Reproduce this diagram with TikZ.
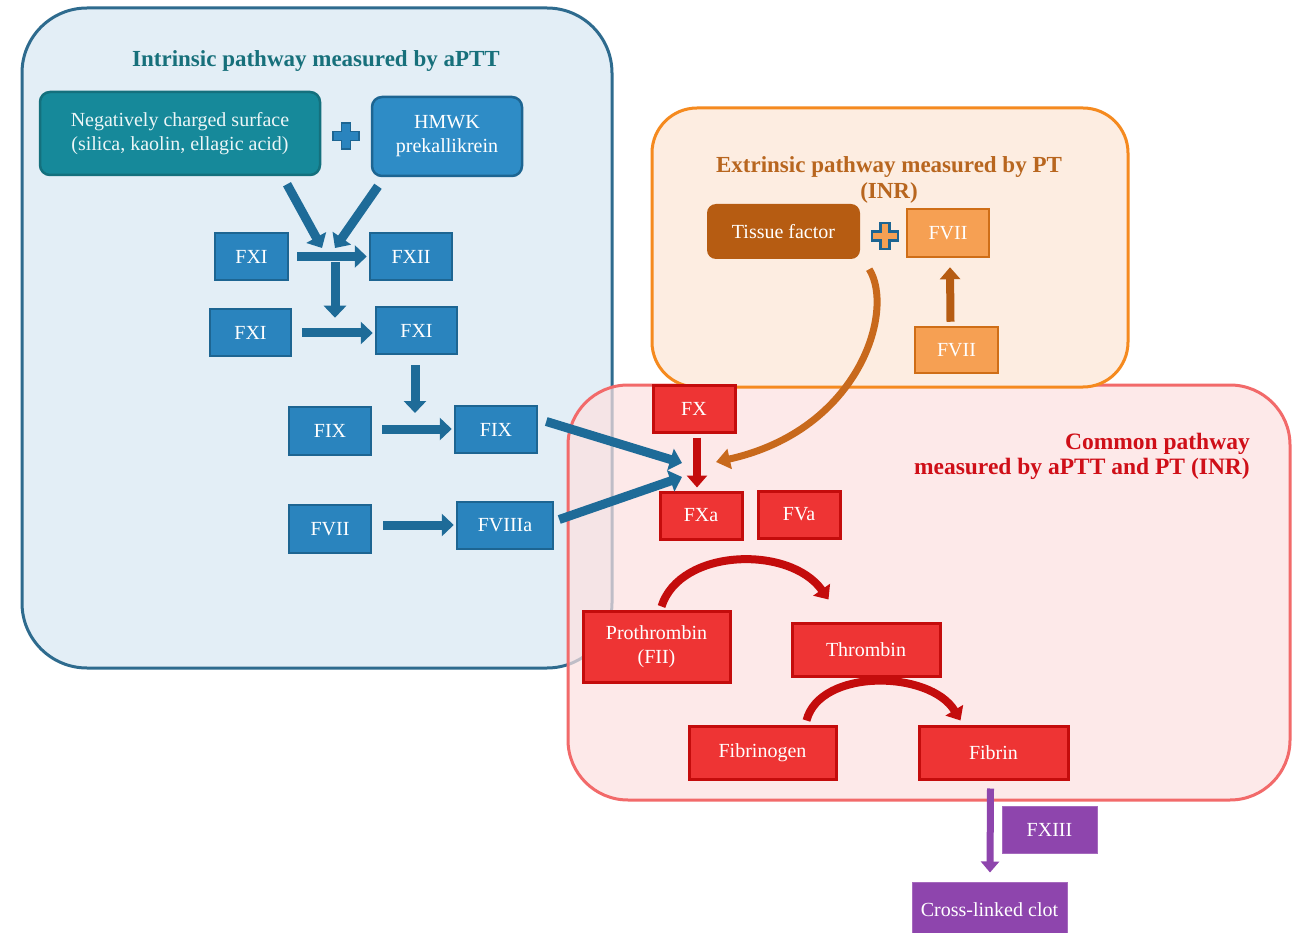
\documentclass[tikz,border=0pt]{standalone}
\usepackage{fontspec}
\setmainfont{Liberation Serif}
\usetikzlibrary{arrows.meta,calc}
\definecolor{bgblue}{HTML}{E3EEF6}
\definecolor{bluebord}{HTML}{2E6B8E}
\definecolor{orangebg}{HTML}{FDEDE1}
\definecolor{orangebord}{HTML}{F58A1F}
\definecolor{pinkbg}{HTML}{FDE1E0}
\definecolor{pinkbord}{HTML}{F26A6A}
\definecolor{boxblue}{HTML}{2A84BE}
\definecolor{boxblueD}{HTML}{1D6592}
\definecolor{arrowblue}{HTML}{1E6B98}
\definecolor{tealbox}{HTML}{16899A}
\definecolor{tealD}{HTML}{14707D}
\definecolor{hmwkc}{HTML}{2E8CC6}
\definecolor{brownc}{HTML}{B65C12}
\definecolor{lorange}{HTML}{F6A053}
\definecolor{orangeD}{HTML}{CF6E17}
\definecolor{redbox}{HTML}{EE3434}
\definecolor{redD}{HTML}{C40C0C}
\definecolor{purplec}{HTML}{8E45AD}
\definecolor{titleteal}{HTML}{17707B}
\definecolor{titlebrown}{HTML}{B8661F}
\definecolor{titlered}{HTML}{CF0F18}
\definecolor{curvearrow}{HTML}{C8691C}
\tikzset{
  boxtext/.style={font=\fontsize{20}{24}\selectfont, text=white, align=center, inner sep=0pt},
  bluebox/.style={boxtext, draw=boxblueD, fill=boxblue, line width=2.5pt},
  orbox/.style={boxtext, draw=orangeD, fill=lorange, line width=2.5pt},
  redbx/.style={boxtext, draw=redD, fill=redbox, line width=3pt},
  purbox/.style={boxtext, fill=purplec, draw=purplec!80!white, line width=1pt},
  titletext/.style={font=\fontsize{23}{26}\selectfont\bfseries, align=center, inner sep=0pt},
  bluearrow/.style={draw=arrowblue, line width=9pt, -{Triangle[length=12pt,width=22pt]}},
  redarrow/.style={draw=redD, line width=8pt, -{Triangle[length=12pt,width=20pt]}},
  brownarrow/.style={draw=brownc, line width=8pt, -{Triangle[length=12pt,width=20pt]}},
  purarrow/.style={draw=purplec, line width=7pt, -{Triangle[length=11pt,width=18pt]}},
  plussign/.pic={
    \path[pic actions] (-4.5,-13) -- (4.5,-13) -- (4.5,-4.5) -- (13,-4.5) -- (13,4.5) -- (4.5,4.5) -- (4.5,13) -- (-4.5,13) -- (-4.5,4.5) -- (-13,4.5) -- (-13,-4.5) -- (-4.5,-4.5) -- cycle;
  }
}
\begin{document}
\begin{tikzpicture}[x=1pt,y=-1pt]
\useasboundingbox (0,0) rectangle (1299,933);
\clip (0,0) rectangle (1299,933);
\fill[white] (0,0) rectangle (1299,933);

% big regions
\draw[fill=bgblue, draw=bluebord, line width=3pt, rounded corners=65pt] (22,8) rectangle (612,668);
\draw[fill=pinkbg, fill opacity=0.7, draw=pinkbord, line width=3pt, rounded corners=60pt] (568,385) rectangle (1290,800);
\draw[fill=orangebg, draw=orangebord, line width=3pt, rounded corners=45pt] (652,108) rectangle (1128,387);

% titles
\node[titletext, text=titleteal] (tin) at (316,61) {Intrinsic pathway measured by aPTT};
\node[titletext, text=titlebrown] (tex) at (889,180) {Extrinsic pathway measured by PT\\(INR)};
\node[titletext, text=titlered, align=right, anchor=east, font=\fontsize{23.5}{25}\selectfont\bfseries] (tco) at (1250,456) {Common pathway\\measured by aPTT and PT (INR)};

% intrinsic nodes
\node[boxtext, draw=tealD, fill=tealbox, line width=2.5pt, rounded corners=10pt, minimum width=280pt, minimum height=83pt, text=white!92!tealbox] (nsurf) at (180,133.5) {Negatively charged surface\\(silica, kaolin, ellagic acid)};
\node[boxtext, draw=boxblueD, fill=hmwkc, line width=2.5pt, rounded corners=10pt, minimum width=150pt, minimum height=79pt] (hmwk) at (447,136.5) {HMWK\\prekallikrein};
\pic[fill=boxblue, draw=boxblueD, line width=1.5pt] (plus1) at (346,136) {plussign};

\node[bluebox, minimum width=73pt, minimum height=47pt] (fxi1) at (251.5,256.5) {FXI};
\node[bluebox, minimum width=82pt, minimum height=47pt] (fxii) at (411,256.5) {FXII};
\node[bluebox, minimum width=81pt, minimum height=47pt] (fxi2) at (250.5,332.5) {FXI};
\node[bluebox, minimum width=81pt, minimum height=47pt] (fxi3) at (416.5,330.5) {FXI};
\node[bluebox, minimum width=82pt, minimum height=48pt] (fix1) at (330,431) {FIX};
\node[bluebox, minimum width=82pt, minimum height=47pt] (fix2) at (496,429.5) {FIX};
\node[bluebox, minimum width=82pt, minimum height=48pt] (fvii) at (330,529) {FVII};
\node[bluebox, minimum width=96pt, minimum height=47pt] (fviiia) at (505,525.5) {FVIIIa};

% extrinsic nodes
\node[boxtext, fill=brownc, rounded corners=9pt, minimum width=153pt, minimum height=55pt] (tf) at (783.5,231.5) {Tissue factor};
\pic[fill=lorange, draw=boxblueD, line width=2.5pt] (plus2) at (885,236) {plussign};
\node[orbox, minimum width=82pt, minimum height=48pt] (fvo1) at (948,233) {FVII};
\node[orbox, minimum width=83pt, minimum height=46pt] (fvo2) at (956.5,350) {FVII};

% common nodes
\node[redbx, minimum width=82pt, minimum height=47pt] (fx) at (694,408.5) {FX};
\node[redbx, minimum width=82pt, minimum height=47pt] (fxa) at (701,515.5) {FXa};
\node[redbx, minimum width=82pt, minimum height=47pt] (fva) at (799,514.5) {FVa};
\node[redbx, minimum width=147pt, minimum height=71pt] (pro) at (656.5,646.5) {Prothrombin\\(FII)};
\node[redbx, minimum width=148pt, minimum height=53pt] (thr) at (866,649.5) {Thrombin};
\node[redbx, minimum width=147pt, minimum height=53pt] (fbg) at (762.5,752.5) {Fibrinogen};
\node[redbx, minimum width=149pt, minimum height=53pt] (fbn) at (993.5,752.5) {Fibrin};

% purple
\node[purbox, minimum width=95pt, minimum height=47pt] (fxiii) at (1049.5,829.5) {FXIII};
\node[purbox, minimum width=155pt, minimum height=56pt] (clot) at (989.5,910) {Cross-linked clot};

% junction coordinates
\coordinate (jA) at (322,248);
\coordinate (jB) at (335,248);
\coordinate (jC) at (335,262);
\coordinate (jD) at (415,413);
\coordinate (jE) at (682,463);
\coordinate (jF) at (682,477);
\coordinate (jG) at (716,462);

% intrinsic arrows
\draw[bluearrow] ($(nsurf.south)+(107,8)$) -- (jA);
\draw[bluearrow] ($(hmwk.south)+(-69,9)$) -- (jB);
\draw[bluearrow] ($(fxi1.east)+(8,0)$) -- ($(fxii.west)+(-2,0)$);
\draw[bluearrow] (jC) -- ($(fxi2.north -| jC)+(0,10)$);
\draw[bluearrow] ($(fxi2.east)+(10,0.5)$) -- ($(fxi3.west)+(-2,2.5)$);
\draw[bluearrow] ($(fxi3.south)+(-1.5,10)$) -- (jD);
\draw[bluearrow] ($(fix1.east)+(10,-2)$) -- ($(fix2.west)+(-2,-0.5)$);
\draw[bluearrow] ($(fvii.east)+(11,-4)$) -- ($(fviiia.west)+(-2,-0.5)$);
\draw[bluearrow] ($(fix2.east)+(8,-8)$) -- (jE);
\draw[bluearrow] ($(fviiia.east)+(5,-6)$) -- (jF);

% common arrows
\draw[redarrow] ($(fx.south)+(3,4)$) -- ($(fxa.north)+(-4,-3)$);
\draw[redarrow] ($(pro.north)+(5,-3)$) .. controls (680,548) and (790,545) .. ($(thr.north west)+(38,-22)$);
\draw[redarrow] ($(fbg.north)+(44,-4)$) .. controls (820,668) and (930,670) .. ($(fbn.north west)+(43,-4)$);

% extrinsic arrows
\draw[brownarrow] ($(fvo2.north)+(-6,-4)$) -- ($(fvo1.south)+(2,9)$);
\draw[draw=curvearrow, line width=7pt, -{Triangle[length=14pt,width=20pt]}] ($(tf.south east)+(9,10)$) .. controls (895,310) and (860,430) .. (jG);

% purple arrow
\draw[purarrow] ($(fbn.south)+(-3,8)$) -- ($(clot.north)+(0.5,-9)$);
\end{tikzpicture}
\end{document}
